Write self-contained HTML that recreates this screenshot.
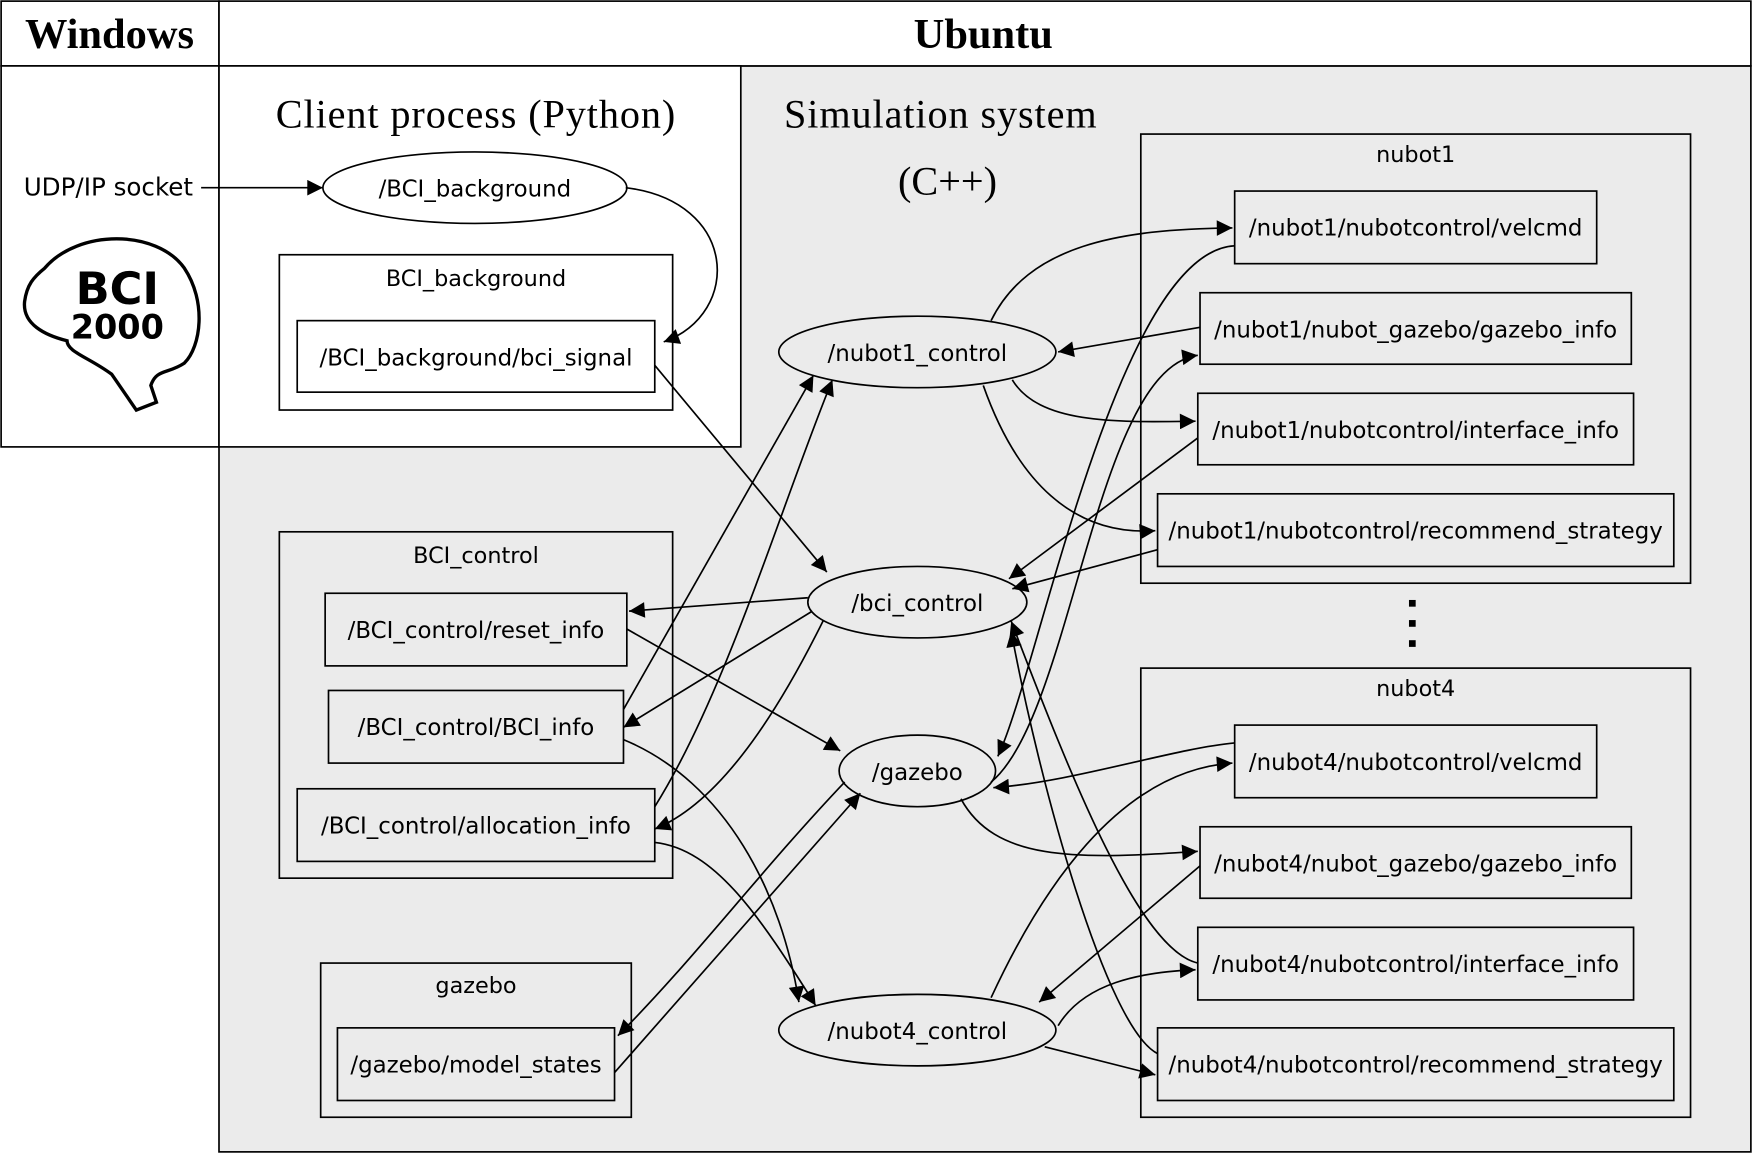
<!DOCTYPE html>
<html><head><meta charset="utf-8"><style>html,body{margin:0;padding:0;background:#fff}svg{display:block}</style></head>
<body>
<svg width="1752" height="1153" viewBox="0 0 1568 1032" preserveAspectRatio="none" xmlns="http://www.w3.org/2000/svg">
<defs>
<marker id="a" viewBox="0 0 10 10" refX="10" refY="5" markerWidth="20" markerHeight="14" markerUnits="userSpaceOnUse" orient="auto"><path d="M0,0L10,5L0,10z" fill="#000"/></marker>
</defs>
<rect x="196" y="59" width="1371" height="972" fill="#ebebeb" stroke="#000" stroke-width="1.5"/>
<rect x="1" y="1" width="195" height="58" fill="#fff" stroke="#000" stroke-width="1.5"/>
<rect x="196" y="1" width="1371" height="58" fill="#fff" stroke="#000" stroke-width="1.5"/>
<rect x="1" y="59" width="195" height="341" fill="#fff" stroke="#000" stroke-width="1.5"/>
<rect x="196" y="59" width="467" height="341" fill="#fff" stroke="#000" stroke-width="1.5"/>
<g font-family="Liberation Serif, serif" text-anchor="middle">
<text x="98" y="43" font-size="38" font-weight="bold">Windows</text>
<text x="880" y="43" font-size="38" font-weight="bold">Ubuntu</text>
<text x="426" y="114" font-size="36" letter-spacing="0.8">Client process (Python)</text>
<text x="842" y="114" font-size="36" letter-spacing="0.8">Simulation system</text>
<text x="848" y="174" font-size="36">(C++)</text>
</g>
<path d="M40,240 C70,205 140,205 165,240 C185,270 180,310 165,325 C150,335 140,330 135,345 L140,360 L122,367 L100,335 C80,320 60,315 60,305 C40,300 20,290 22,270 C24,255 30,248 40,240 Z" fill="#fff" stroke="#000" stroke-width="3"/>
<g font-family="DejaVu Sans, sans-serif" font-weight="bold" text-anchor="middle">
<text x="105" y="272" font-size="40">BCI</text>
<text x="105" y="303" font-size="30">2000</text>
</g>
<g fill="none" stroke="#000" stroke-width="1.5">
<rect x="250" y="228" width="352" height="139" fill="#fff"/>
<rect x="266" y="287" width="320" height="64" fill="#fff"/>
<rect x="250" y="476" width="352" height="310"/>
<rect x="291" y="531" width="270" height="65"/>
<rect x="294" y="618" width="264" height="65"/>
<rect x="266" y="706" width="320" height="65"/>
<rect x="287" y="862" width="278" height="138"/>
<rect x="302" y="920" width="248" height="65"/>
<rect x="1021" y="120" width="492" height="402"/>
<rect x="1105" y="171" width="324" height="65"/>
<rect x="1074" y="262" width="386" height="64"/>
<rect x="1072" y="352" width="390" height="64"/>
<rect x="1036" y="442" width="462" height="65"/>
<rect x="1021" y="598" width="492" height="402"/>
<rect x="1105" y="649" width="324" height="65"/>
<rect x="1074" y="740" width="386" height="64"/>
<rect x="1072" y="830" width="390" height="65"/>
<rect x="1036" y="920" width="462" height="65"/>
<ellipse cx="425" cy="168" rx="136" ry="32" fill="#fff"/>
<ellipse cx="821" cy="315" rx="124" ry="32"/>
<ellipse cx="821" cy="539" rx="98" ry="32"/>
<ellipse cx="821" cy="690" rx="70" ry="32"/>
<ellipse cx="821" cy="922" rx="124" ry="32"/>
</g>
<g fill="#000"><rect x="1261" y="537" width="6" height="6"/><rect x="1261" y="555" width="6" height="6"/><rect x="1261" y="573" width="6" height="6"/></g>
<g font-family="DejaVu Sans, sans-serif" font-size="20.5" text-anchor="middle">
<text x="97" y="175" font-size="22">UDP/IP socket</text>
<text x="425" y="176">/BCI_background</text>
<text x="426" y="256" font-size="20">BCI_background</text>
<text x="426" y="327">/BCI_background/bci_signal</text>
<text x="426" y="504" font-size="20">BCI_control</text>
<text x="426" y="571">/BCI_control/reset_info</text>
<text x="426" y="658">/BCI_control/BCI_info</text>
<text x="426" y="746">/BCI_control/allocation_info</text>
<text x="426" y="889" font-size="20">gazebo</text>
<text x="426" y="960">/gazebo/model_states</text>
<text x="821" y="323">/nubot1_control</text>
<text x="821" y="547">/bci_control</text>
<text x="821" y="698">/gazebo</text>
<text x="821" y="930">/nubot4_control</text>
<text x="1267" y="145" font-size="20">nubot1</text>
<text x="1267" y="211">/nubot1/nubotcontrol/velcmd</text>
<text x="1267" y="302">/nubot1/nubot_gazebo/gazebo_info</text>
<text x="1267" y="392">/nubot1/nubotcontrol/interface_info</text>
<text x="1267" y="482">/nubot1/nubotcontrol/recommend_strategy</text>
<text x="1267" y="623" font-size="20">nubot4</text>
<text x="1267" y="689">/nubot4/nubotcontrol/velcmd</text>
<text x="1267" y="780">/nubot4/nubot_gazebo/gazebo_info</text>
<text x="1267" y="870">/nubot4/nubotcontrol/interface_info</text>
<text x="1267" y="960">/nubot4/nubotcontrol/recommend_strategy</text>
</g>
<g fill="none" stroke="#000" stroke-width="1.5" marker-end="url(#a)">
<path d="M180,168L289,168"/>
<path d="M560,168C660,180 665,280 594,306"/>
<path d="M586,327L740,512"/>
<path d="M723,535L563,547"/>
<path d="M727,547L558,651"/>
<path d="M737,555C690,650 640,720 586,742"/>
<path d="M561,563L752,672"/>
<path d="M558,635L728,336"/>
<path d="M586,722C650,620 700,450 745,340"/>
<path d="M558,662C650,700 700,800 715,897"/>
<path d="M586,754C640,760 680,820 730,900"/>
<path d="M756,700C680,780 620,860 553,927"/>
<path d="M550,960L770,710"/>
<path d="M887,287C920,220 1000,205 1103,204"/>
<path d="M1074,293L947,315"/>
<path d="M906,340C930,380 1000,378 1070,377"/>
<path d="M880,345C910,430 960,480 1034,475"/>
<path d="M1072,392L903,518"/>
<path d="M1036,492L906,527"/>
<path d="M1105,220C1000,225 930,600 893,677"/>
<path d="M887,700C960,640 980,330 1072,318"/>
<path d="M1105,665C1050,670 960,700 889,705"/>
<path d="M860,715C890,770 960,770 1072,762"/>
<path d="M1072,862C1020,850 960,700 905,556"/>
<path d="M1036,943C990,920 930,700 905,565"/>
<path d="M887,893C930,800 1000,690 1103,683"/>
<path d="M1074,775L930,897"/>
<path d="M947,918C970,880 1020,870 1070,868"/>
<path d="M935,937L1034,962"/>
</g>
</svg>
</body></html>
